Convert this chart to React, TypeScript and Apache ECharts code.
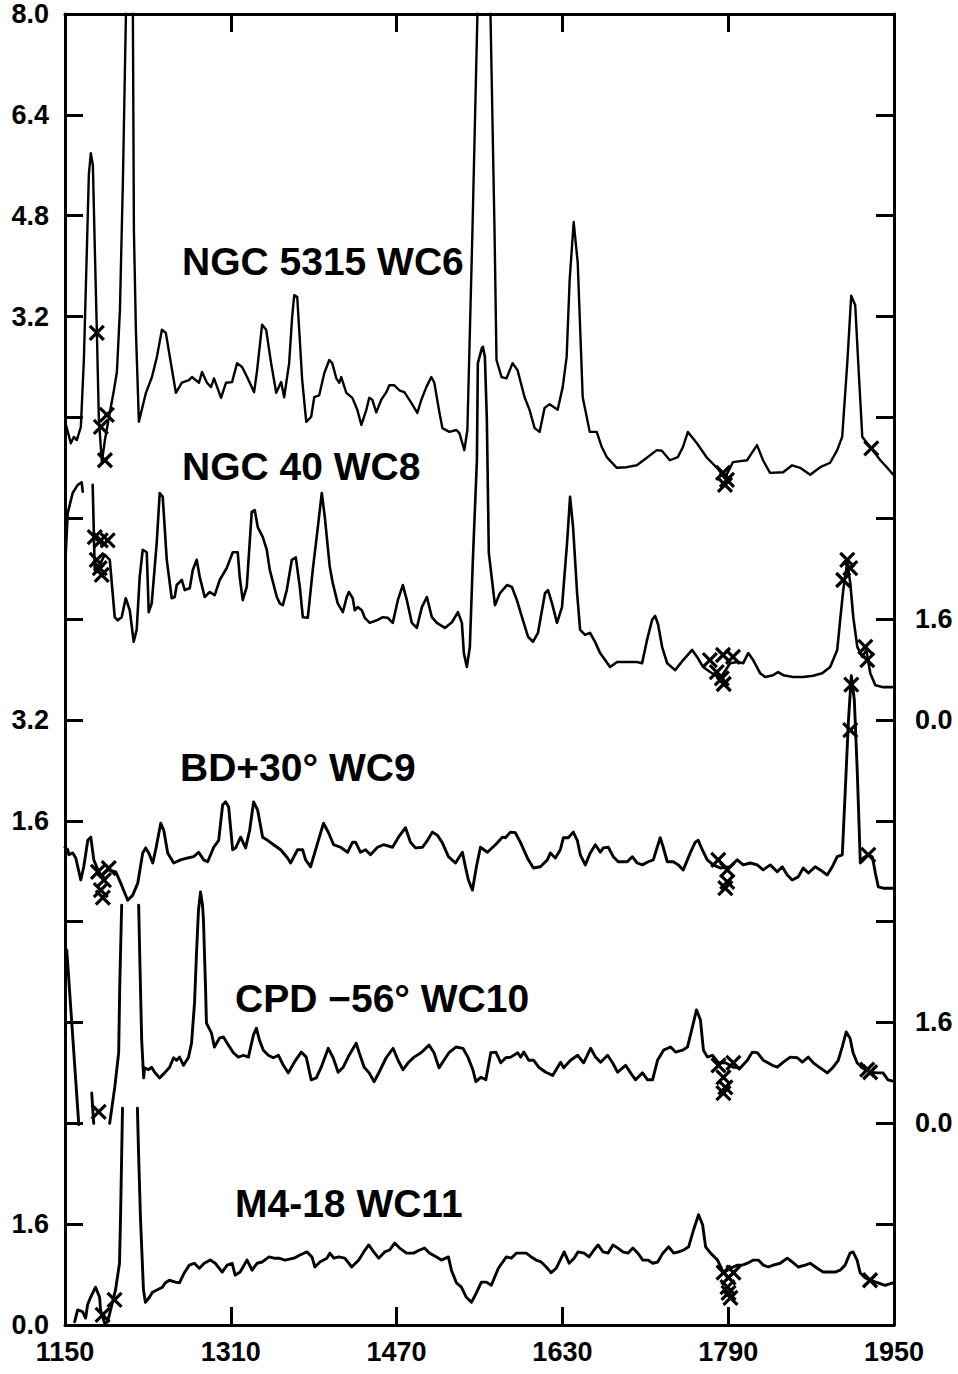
import React, { useEffect, useRef } from "react";
import * as echarts from "echarts";

// ---- data (wavelength in Å, flux in local units of each spectrum) ----
const xTickValues = [1150, 1310, 1470, 1630, 1790, 1950];
const yStep = 1.6;
const leftTickLabels = ["0.0", "1.6", "", "", "", "1.6", "3.2", "", "", "", "3.2", "4.8", "6.4", "8.0"];
const rightTickLabels = ["", "", "0.0", "1.6", "", "", "0.0", "1.6", "", "", "", "", "", ""];
const names = ["NGC 5315 WC6", "NGC 40 WC8", "BD+30° WC9", "CPD −56° WC10", "M4-18 WC11"];
const offsets = [12.8, 9.6, 6.4, 3.2, 0];

const ngc5315 = [
  [1151, 1.48], [1155.6, 1.19], [1158.5, 1.29], [1161.4, 1.24], [1165.3, 1.45], [1168.2, 2.51], [1171.1, 4.26], [1173, 5.45], [1174.9, 5.79], [1176.9, 5.6], [1178.8, 4.26], [1180.7, 2.99], [1182.7, 1.56], [1185.6, 0.89], [1188.5, 1.24], [1192.3, 1.59], [1197.2, 2.03], [1200.1, 2.32], [1203, 3.3], [1205.9, 5.37], [1208.8, 8.0], [1212, 9.5], [1215.5, 8.0], [1216.5, 4.57], [1218.4, 2.99], [1221.3, 1.53], [1228.1, 1.99], [1233.9, 2.24], [1238.7, 2.56], [1243.5, 2.99], [1247.3, 2.94], [1252.2, 2.46], [1257, 1.99], [1262.8, 2.15], [1269.6, 2.19], [1272.5, 2.24], [1279.3, 2.15], [1282.2, 2.32], [1287, 2.15], [1290.9, 2.08], [1293.8, 2.22], [1300.6, 1.91], [1305.4, 2.15], [1311.2, 2.16], [1316.1, 2.46], [1320.9, 2.4], [1325.7, 2.24], [1332.5, 2.0], [1335.4, 2.35], [1340.2, 3.07], [1344.1, 2.99], [1348.9, 2.46], [1353.8, 1.99], [1358.6, 2.16], [1361.5, 1.92], [1366.3, 2.46], [1369.2, 3.19], [1371.2, 3.54], [1374.1, 3.51], [1376, 2.99], [1378.9, 2.19], [1382.8, 1.53], [1387.6, 1.61], [1390.5, 1.92], [1395.3, 1.95], [1400.2, 2.3], [1405, 2.51], [1407.9, 2.46], [1411.8, 2.22], [1414.7, 2.15], [1416.6, 2.24], [1421.5, 1.99], [1427.3, 1.91], [1432.1, 1.72], [1436, 1.48], [1440.8, 1.72], [1443.6, 1.91], [1446.5, 1.88], [1450.4, 1.68], [1455.2, 1.88], [1460.1, 2.0], [1463, 2.11], [1467.8, 2.11], [1472.6, 2.03], [1477.5, 2.0], [1484.2, 1.83], [1490, 1.67], [1493.9, 1.88], [1498.7, 2.08], [1503.5, 2.24], [1506.4, 2.15], [1511.3, 1.68], [1514.2, 1.43], [1520.9, 1.37], [1527.7, 1.4], [1530.6, 1.35], [1535.4, 1.08], [1538.3, 1.4], [1543.2, 4.57], [1548, 8.0], [1554.8, 9.5], [1560.6, 8.0], [1564.5, 4.57], [1566.4, 2.51], [1571.3, 2.24], [1576.1, 2.22], [1581.9, 2.46], [1586.7, 2.35], [1593.5, 1.92], [1598.3, 1.72], [1603.2, 1.43], [1608, 1.37], [1612.8, 1.75], [1617.7, 1.81], [1625.4, 1.72], [1630.3, 2.08], [1634.1, 2.56], [1637, 3.78], [1640.9, 4.7], [1644.8, 4.05], [1649.6, 1.92], [1656.4, 1.37], [1663.1, 1.37], [1668, 1.13], [1672.8, 0.97], [1682.5, 0.8], [1692.1, 0.81], [1701.8, 0.84], [1711.5, 0.96], [1721.1, 1.08], [1726, 1.07], [1733.7, 0.92], [1741.4, 0.97], [1746.3, 1.13], [1751.1, 1.37], [1759.8, 1.19], [1769.5, 0.96], [1779.2, 0.8], [1786.9, 0.64], [1794.6, 0.89], [1808.2, 0.92], [1817.8, 1.16], [1823.6, 0.92], [1830.4, 0.72], [1843, 0.73], [1851.7, 0.84], [1859.4, 0.8], [1869.1, 0.69], [1878.8, 0.81], [1888.4, 0.88], [1895.2, 1.08], [1900, 1.29], [1904.9, 2.46], [1908.7, 3.53], [1912.6, 3.38], [1915.5, 2.46], [1919.4, 1.29], [1927.1, 1.13], [1936.8, 0.92], [1943.5, 0.8], [1949.3, 0.69],
];

const ngc40 = [
  [1150.7, 2.62], [1152.6, 3.28], [1157.4, 3.6], [1162.3, 3.73], [1166.1, 3.77], [1167.1, 3.62], [1172, null],
  [1176.7, 3.73], [1178.7, 2.38], [1183.5, 2.46], [1188.3, 2.62], [1193.2, 2.54], [1198, 1.63], [1200.9, 1.58], [1204.7, 1.63], [1208.6, 1.93], [1212.5, 1.74], [1216.3, 1.24], [1219.2, 1.43], [1222.1, 2.27], [1225, 2.7], [1228.9, 2.66], [1230.8, 1.71], [1233.7, 1.85], [1238.5, 2.81], [1241.4, 3.6], [1244.3, 3.54], [1248.2, 2.54], [1253, 1.93], [1255.9, 1.95], [1257.8, 2.14], [1262.7, 2.22], [1265.6, 2.06], [1270.4, 2.09], [1273.3, 2.38], [1277.1, 2.54], [1280, 2.27], [1284.8, 1.95], [1289.7, 2.03], [1294.5, 1.98], [1299.3, 2.22], [1306.1, 2.41], [1311.9, 2.66], [1316.7, 2.66], [1318.6, 2.27], [1321.5, 1.9], [1325.4, 2.11], [1330.2, 3.3], [1333.1, 3.33], [1336, 3.06], [1340.9, 2.9], [1344.7, 2.7], [1347.6, 2.38], [1354.4, 1.95], [1357.3, 1.85], [1360.2, 1.82], [1364, 2.06], [1368.9, 2.54], [1372.7, 2.58], [1376.6, 2.11], [1379.5, 1.63], [1384.3, 1.62], [1389.1, 2.38], [1394, 3.06], [1397.8, 3.6], [1400.7, 3.22], [1405.5, 2.43], [1408.4, 2.17], [1413.2, 1.85], [1418.1, 1.71], [1421.9, 1.95], [1423.9, 2.03], [1427.7, 1.93], [1429.6, 1.74], [1432.5, 1.79], [1436.4, 1.74], [1439.3, 1.62], [1444.1, 1.54], [1450.9, 1.58], [1456.7, 1.63], [1461.5, 1.62], [1466.3, 1.54], [1471.2, 1.9], [1476, 2.14], [1479.9, 1.9], [1484.7, 1.54], [1489.5, 1.46], [1494.4, 1.79], [1499.2, 1.95], [1504, 1.63], [1508.9, 1.54], [1516.6, 1.46], [1523.4, 1.55], [1529.2, 1.71], [1533, 1.54], [1534.9, 1.06], [1537.8, 0.84], [1540.7, 1.16], [1543.6, 2.54], [1547.5, 4.12], [1548.4, 5.66], [1552.3, 5.9], [1553.3, 5.92], [1555.2, 5.76], [1557.1, 4.76], [1559, 2.65], [1564.9, 1.82], [1569.7, 2.01], [1576.5, 2.14], [1581.3, 2.11], [1586.1, 1.9], [1591, 1.63], [1596.8, 1.32], [1601.6, 1.24], [1606.4, 1.38], [1613.2, 2.01], [1616.1, 2.06], [1620, 1.85], [1624.8, 1.54], [1629.6, 1.79], [1634.5, 2.81], [1637.4, 3.54], [1640.3, 3.06], [1644.2, 2.01], [1647.1, 1.43], [1651.9, 1.35], [1656.7, 1.38], [1661.5, 1.24], [1666.4, 1.06], [1671.2, 0.95], [1676, 0.84], [1682.8, 0.92], [1692.4, 0.92], [1702.1, 0.92], [1706.9, 0.9], [1711.7, 1.27], [1716.6, 1.59], [1719.5, 1.65], [1722.4, 1.51], [1726.2, 1.16], [1731.1, 0.9], [1738.8, 0.79], [1746.5, 0.95], [1755.2, 1.11], [1760, 1.0], [1765.8, 0.84], [1772.6, 0.76], [1782.3, 0.66], [1791.9, 0.9], [1798.7, 0.92], [1804.5, 0.9], [1809.3, 1.06], [1814.1, 0.95], [1820.9, 0.74], [1825.7, 0.68], [1833.4, 0.71], [1838.2, 0.76], [1843.1, 0.71], [1852.7, 0.68], [1862.4, 0.68], [1872, 0.7], [1880.7, 0.74], [1888.4, 0.84], [1895.2, 1.11], [1898.1, 1.59], [1901, 2.06], [1904.9, 2.5], [1907.8, 2.17], [1910.7, 1.63], [1914.6, 1.16], [1919.4, 1.0], [1923.3, 1.11], [1927.1, 0.74], [1932, 0.55], [1939.7, 0.52], [1948.4, 0.52],
];

const bd30 = [
  [1150, 1.18], [1152.7, 1.14], [1153.7, 1.06], [1157.5, 1.09], [1160.4, 1.01], [1165.2, 0.66], [1168.1, 0.87], [1172, 1.29], [1174.9, 1.34], [1177.8, 0.98], [1184.5, 0.71], [1191.3, 0.82], [1199, 0.79], [1203.8, 0.61], [1210.5, 0.34], [1215.4, 0.42], [1220.2, 0.61], [1225, 1.09], [1227.9, 1.17], [1230.8, 1.09], [1234.7, 0.93], [1237.5, 1.14], [1242.4, 1.56], [1245.3, 1.45], [1249.1, 1.09], [1254.9, 0.93], [1261.6, 0.98], [1268.4, 1.01], [1274.2, 1.03], [1279, 1.1], [1283.8, 0.98], [1287.7, 0.95], [1293.5, 1.18], [1298.3, 1.29], [1302.1, 1.85], [1305, 1.9], [1307.9, 1.82], [1311.8, 1.14], [1314.7, 1.17], [1319.5, 1.34], [1324.3, 1.17], [1328.2, 1.45], [1332, 1.9], [1335.9, 1.77], [1340.7, 1.34], [1345.5, 1.29], [1351.3, 1.22], [1358.1, 1.14], [1364.8, 1.01], [1367.7, 0.93], [1374.4, 1.14], [1379.3, 1.14], [1382.2, 0.98], [1387, 0.87], [1393.8, 1.25], [1399.5, 1.56], [1404.3, 1.41], [1409.2, 1.22], [1415.9, 1.18], [1422.7, 1.1], [1427.5, 1.26], [1430.4, 1.26], [1435.2, 1.1], [1440, 1.14], [1444.8, 1.06], [1451.6, 1.18], [1457.4, 1.22], [1466.1, 1.18], [1471.8, 1.34], [1478.6, 1.49], [1483.4, 1.26], [1488.2, 1.17], [1495, 1.18], [1499.8, 1.29], [1504.6, 1.42], [1509.4, 1.37], [1514.2, 1.25], [1520, 1.03], [1526.8, 0.93], [1533.5, 1.1], [1536.4, 0.87], [1539.3, 0.66], [1543.2, 0.5], [1547, 0.87], [1550.9, 1.18], [1557.6, 1.1], [1565.4, 1.22], [1572.1, 1.34], [1575, 1.33], [1579.8, 1.42], [1584.6, 1.41], [1589.4, 1.26], [1596.2, 1.01], [1602, 0.85], [1608.7, 0.87], [1615.5, 0.98], [1618.4, 1.09], [1623.2, 1.01], [1628, 1.14], [1630.9, 1.33], [1635.7, 1.33], [1640.5, 1.42], [1644.4, 1.29], [1647.3, 1.06], [1652.1, 0.9], [1656.9, 1.09], [1661.8, 1.22], [1666.6, 1.1], [1669.5, 1.17], [1674.3, 1.18], [1679.1, 1.03], [1683.9, 0.95], [1692.6, 0.95], [1697.4, 1.03], [1702.2, 0.93], [1707.1, 0.9], [1712.8, 0.95], [1717.7, 0.98], [1721.5, 1.18], [1724.4, 1.33], [1727.3, 1.18], [1731.2, 0.95], [1737, 0.95], [1741.8, 0.9], [1746.6, 0.82], [1753.4, 1.09], [1758.2, 1.26], [1761.1, 1.29], [1765, 1.14], [1769.8, 0.98], [1775.6, 0.9], [1782.3, 0.85], [1792, 0.87], [1798.7, 0.98], [1804.5, 0.9], [1811.3, 0.93], [1818, 0.9], [1823.8, 0.82], [1830.6, 0.9], [1837.3, 0.79], [1842.2, 0.87], [1847, 0.74], [1851.8, 0.66], [1857.6, 0.71], [1862.4, 0.85], [1867.3, 0.77], [1874, 0.87], [1878.8, 0.82], [1885.6, 0.74], [1890.4, 0.87], [1895.2, 1.03], [1900.1, 1.06], [1903, 2.09], [1905.9, 3.15], [1908.8, 3.9], [1911.7, 3.52], [1914.6, 2.36], [1917.5, 0.93], [1920.4, 1.01], [1925.2, 1.06], [1929.1, 1.03], [1932, 0.77], [1934.9, 0.55], [1939.7, 0.53], [1949.3, 0.53],
];

const cpd56 = [
  [1151.7, 2.75], [1163.3, -0.02], [1170, null], [1175.8, 0.48], [1177.7, 0.0], [1185, null],
  [1193.1, 0.0], [1198, 0.57], [1201.8, 1.12], [1202.8, 2.16], [1204.7, 3.46], [1212, null],
  [1221.1, 3.46], [1222, 2.75], [1224, 1.32], [1225.9, 0.72], [1226.8, 0.88], [1230.7, 0.85], [1233.6, 0.89], [1236.5, 0.81], [1241.3, 0.72], [1246.1, 0.8], [1250.9, 0.89], [1254.8, 1.04], [1257.7, 1.0], [1260.5, 1.05], [1264.4, 0.92], [1269.2, 1.05], [1272.1, 1.27], [1275, 1.91], [1276.9, 2.7], [1278.8, 3.38], [1280.8, 3.67], [1282.7, 3.46], [1283.6, 3.23], [1285.6, 2.16], [1286.5, 1.59], [1291.4, 1.43], [1294.2, 1.21], [1299, 1.35], [1302.9, 1.37], [1307.7, 1.24], [1312.5, 1.12], [1317.3, 1.05], [1322.2, 1.08], [1327, 1.05], [1331.8, 1.4], [1334.7, 1.51], [1337.6, 1.32], [1341.4, 1.16], [1346.2, 1.08], [1351.1, 1.04], [1355.9, 1.08], [1360.7, 0.92], [1365.5, 0.8], [1371.3, 0.97], [1378, 1.13], [1382.8, 1.05], [1387.6, 0.69], [1392.5, 0.72], [1397.3, 0.89], [1404, 1.19], [1408.8, 1.04], [1413.6, 0.81], [1418.5, 0.89], [1424.2, 1.08], [1431, 1.27], [1433.9, 1.12], [1438.7, 0.89], [1443.5, 0.8], [1448.3, 0.66], [1453.1, 0.81], [1459.9, 1.04], [1466.6, 1.19], [1471.4, 1.0], [1476.2, 0.85], [1481.1, 0.96], [1486.8, 1.05], [1493.6, 1.12], [1501.3, 1.24], [1506.1, 1.12], [1510.9, 0.88], [1515.7, 1.0], [1520.5, 1.12], [1527.3, 1.21], [1534, 1.19], [1538.8, 1.05], [1543.6, 0.85], [1546.5, 0.66], [1551.3, 0.73], [1556.1, 0.69], [1560.9, 1.12], [1565.8, 1.13], [1570.6, 0.96], [1575.4, 1.04], [1580.2, 1.05], [1586.9, 1.12], [1589.8, 1.05], [1592.7, 1.13], [1597.5, 1.0], [1602.3, 1.0], [1607.1, 0.89], [1613.9, 0.81], [1620.6, 0.76], [1625.4, 0.89], [1628.3, 0.97], [1631.2, 0.88], [1637.9, 1.0], [1644.7, 1.08], [1650.5, 0.96], [1657.2, 1.19], [1662, 1.05], [1666.9, 0.97], [1673.6, 1.08], [1678.4, 0.96], [1683.3, 0.81], [1688.1, 0.88], [1691, 0.92], [1695.8, 0.8], [1700.6, 0.69], [1707.3, 0.8], [1712.2, 0.69], [1717, 0.69], [1721.8, 1.0], [1727.6, 1.16], [1734.4, 1.21], [1739.2, 1.13], [1745.9, 1.16], [1750.7, 1.21], [1755.5, 1.53], [1759.4, 1.8], [1763.2, 1.64], [1766.1, 1.16], [1770, 1.05], [1774.8, 1.08], [1780.6, 0.96], [1787.3, 0.96], [1795, 0.89], [1801.8, 0.88], [1808.5, 1.0], [1813.3, 1.13], [1818.1, 1.12], [1823.9, 1.0], [1832.6, 0.92], [1837.4, 0.89], [1843.2, 0.97], [1849.9, 1.05], [1856.7, 1.04], [1861.5, 0.97], [1867.3, 1.05], [1872.1, 0.96], [1878.8, 0.88], [1885.6, 0.8], [1891.3, 0.89], [1896.2, 1.0], [1900, 1.21], [1903.9, 1.45], [1907.6, 1.35], [1910.5, 1.12], [1914.4, 0.96], [1919.2, 0.88], [1926.9, 0.81], [1933.6, 0.8], [1939.4, 0.8], [1944.2, 0.69], [1949, 0.67],
];

const m418 = [
  [1159.3, 0.05], [1162.2, 0.24], [1167, 0.21], [1169.9, 0.11], [1171.8, 0.32], [1174.7, 0.44], [1179.5, 0.6], [1183.4, 0.44], [1184.3, 0.24], [1188.2, 0.03], [1191.1, 0.05], [1194, 0.24], [1198.8, 0.56], [1202.6, 0.98], [1203.6, 1.71], [1205.5, 3.44], [1212, null],
  [1219.9, 3.44], [1220.9, 2.78], [1222.8, 1.71], [1225.7, 0.56], [1227.6, 0.36], [1231.5, 0.44], [1234.4, 0.52], [1239.2, 0.56], [1244, 0.6], [1246.9, 0.67], [1250.7, 0.71], [1256.5, 0.68], [1260.4, 0.67], [1265.2, 0.83], [1270, 0.95], [1274.8, 0.98], [1279.6, 0.9], [1284.4, 0.98], [1290.2, 1.03], [1295, 0.98], [1301.7, 0.84], [1306.5, 0.95], [1311.3, 0.98], [1314.2, 0.79], [1319, 0.84], [1325.7, 1.03], [1330.5, 0.87], [1335.4, 0.98], [1340.2, 1.0], [1346.9, 1.08], [1351.7, 1.06], [1356.5, 1.06], [1362.3, 1.03], [1370.9, 1.06], [1376.7, 1.11], [1383.5, 1.16], [1388.3, 1.08], [1391.2, 0.92], [1396, 1.0], [1402.7, 1.06], [1405.6, 1.14], [1409.4, 1.06], [1414.2, 1.08], [1420, 1.06], [1426.7, 0.92], [1433.5, 1.03], [1438.3, 1.16], [1443.1, 1.27], [1447.9, 1.16], [1452.7, 1.06], [1458.5, 1.16], [1463.3, 1.19], [1468.1, 1.3], [1472.9, 1.22], [1479.6, 1.14], [1486.4, 1.14], [1492.2, 1.19], [1497, 1.22], [1501.8, 1.14], [1508.5, 1.08], [1513.3, 1.03], [1520, 1.08], [1522.9, 0.87], [1527.7, 0.67], [1532.5, 0.6], [1537.3, 0.44], [1542.2, 0.36], [1547, 0.51], [1551.8, 0.68], [1556.6, 0.68], [1561.4, 0.63], [1568.2, 0.9], [1575.9, 1.08], [1580.7, 1.06], [1585.5, 1.14], [1590.3, 1.14], [1595.1, 1.14], [1599.9, 1.08], [1604.7, 1.03], [1609.5, 1.0], [1614.4, 0.92], [1619.2, 0.83], [1624, 0.9], [1628.8, 1.06], [1631.7, 1.16], [1636.5, 0.98], [1641.3, 1.06], [1645.1, 1.16], [1650.9, 1.14], [1655.7, 1.08], [1660.5, 1.19], [1664.4, 1.27], [1669.2, 1.16], [1674, 1.14], [1678.8, 1.27], [1683.6, 1.22], [1688.4, 1.16], [1693.2, 1.14], [1698, 1.22], [1702.8, 1.14], [1707.6, 1.03], [1712.4, 1.03], [1717.2, 0.98], [1722, 1.0], [1726.9, 1.14], [1732.6, 1.24], [1737.4, 1.14], [1742.2, 1.16], [1747, 1.19], [1751.8, 1.24], [1756.6, 1.51], [1761.4, 1.75], [1765.3, 1.59], [1768.2, 1.24], [1773, 1.14], [1779.7, 1.03], [1785.5, 0.83], [1792.2, 0.9], [1798.9, 0.95], [1803.7, 0.95], [1808.6, 0.98], [1814.3, 1.03], [1819.1, 1.03], [1823.9, 0.95], [1828.7, 0.92], [1833.5, 0.95], [1840.2, 0.98], [1847, 1.06], [1851.8, 1.0], [1857.6, 0.92], [1864.3, 0.95], [1869.1, 0.98], [1875.9, 0.9], [1881.6, 0.84], [1888.4, 0.84], [1893.2, 0.84], [1898, 0.87], [1902.8, 0.95], [1907.6, 1.14], [1910.5, 1.16], [1914.4, 1.03], [1917.3, 0.83], [1922.1, 0.75], [1926.9, 0.71], [1934.6, 0.67], [1941.3, 0.63], [1949, 0.67],
];

// flagged points (crosses)
const x5315 = [[1180.7, 2.94], [1184.6, 1.45], [1190.4, 1.64], [1188.5, 0.92], [1785, 0.72], [1788.8, 0.61], [1786.9, 0.53], [1928.1, 1.11]];
const x40 = [[1178.7, 2.9], [1184.5, 2.85], [1191.2, 2.85], [1180.6, 2.54], [1183.5, 2.41], [1185.4, 2.3], [1772.3, 0.95], [1785, 1.03], [1794.6, 1.0], [1779, 0.76], [1783.8, 0.66], [1785.7, 0.57], [1904.9, 2.54], [1907.8, 2.41], [1901, 2.22], [1922.3, 1.16], [1924.2, 0.95]];
const xBD = [[1181.8, 0.79], [1187.6, 0.66], [1184.5, 0.5], [1186.5, 0.38], [1192.2, 0.85], [1780.4, 0.98], [1789.1, 0.82], [1789.1, 0.63], [1787.2, 0.53], [1908.8, 3.76], [1907.8, 3.04], [1925.2, 1.06]];
const xCPD = [[1182.5, 0.18], [1780.6, 0.92], [1785.4, 0.73], [1787.3, 0.57], [1785.4, 0.48], [1795, 0.96], [1924.1, 0.85], [1927, 0.81]];
const xM4 = [[1186.3, 0.16], [1197.8, 0.4], [1785.5, 0.83], [1790.3, 0.75], [1789.3, 0.6], [1790.3, 0.51], [1792.2, 0.43], [1795.1, 0.83], [1926.9, 0.71]];

const spectra = [ngc5315, ngc40, bd30, cpd56, m418];
const crosses = [x5315, x40, xBD, xCPD, xM4];
const lineWidths = [2.4, 2.6, 2.9, 2.9, 2.9];

const FONT = '"Liberation Sans", Arial, Helvetica, sans-serif';

export default function App() {
  const ref = useRef<HTMLDivElement>(null);

  useEffect(() => {
    if (!ref.current) return;
    const chart = echarts.init(ref.current, undefined, { renderer: "svg" });

    const axisLine = { show: true, onZero: false, lineStyle: { color: "#000", width: 3 } };
    const axisTick = { show: true, inside: true, length: 18, lineStyle: { color: "#000", width: 3 } };
    const labelStyle = { color: "#000", fontSize: 27, fontWeight: "bold" as const, fontFamily: FONT };
    const idx = (v: number) => Math.round(v / yStep);

    const lineSeries = spectra.map((s, i) => ({
      type: "line",
      name: names[i],
      data: s.map(([x, y]) => [x, y === null ? null : (y as number) + offsets[i]]),
      showSymbol: false,
      symbol: "none",
      connectNulls: false,
      clip: true,
      silent: true,
      lineStyle: { color: "#000", width: lineWidths[i], join: "round", cap: "round" },
      z: 2,
    }));

    const crossSeries = crosses.map((c, i) => ({
      type: "scatter",
      data: c.map(([x, y]) => [x, y + offsets[i]]),
      symbol: "path://M0,0L10,10M10,0L0,10",
      symbolSize: 14,
      silent: true,
      itemStyle: { color: "rgba(0,0,0,0)", borderColor: "#000", borderWidth: 3.2, opacity: 1 },
      z: 3,
    }));

    const titlePos = [
      [182, 261],
      [182, 466],
      [180, 767],
      [235, 998],
      [235, 1203],
    ];

    chart.setOption({
      animation: false,
      backgroundColor: "#fff",
      grid: { left: 65, right: 64, top: 14, bottom: 49, containLabel: false },
      xAxis: [
        {
          type: "value",
          position: "bottom",
          min: xTickValues[0],
          max: xTickValues[xTickValues.length - 1],
          interval: 160,
          axisLine,
          axisTick,
          splitLine: { show: false },
          axisLabel: { ...labelStyle, margin: 13, showMinLabel: true, showMaxLabel: true, formatter: (v: number) => String(Math.round(v)) },
        },
        {
          type: "value",
          position: "top",
          min: xTickValues[0],
          max: xTickValues[xTickValues.length - 1],
          interval: 160,
          axisLine,
          axisTick,
          splitLine: { show: false },
          axisLabel: { show: false },
        },
      ],
      yAxis: [
        {
          type: "value",
          position: "left",
          min: 0,
          max: 20.8,
          interval: yStep,
          axisLine,
          axisTick,
          splitLine: { show: false },
          axisLabel: { ...labelStyle, margin: 16, showMinLabel: true, showMaxLabel: true, formatter: (v: number) => leftTickLabels[idx(v)] ?? "" },
        },
        {
          type: "value",
          position: "right",
          min: 0,
          max: 20.8,
          interval: yStep,
          axisLine,
          axisTick,
          splitLine: { show: false },
          axisLabel: { ...labelStyle, margin: 21, showMinLabel: true, showMaxLabel: true, formatter: (v: number) => rightTickLabels[idx(v)] ?? "" },
        },
      ],
      graphic: names.map((n, i) => ({
        type: "text",
        x: titlePos[i][0],
        y: titlePos[i][1],
        z: 10,
        style: {
          text: n,
          font: `bold 39px ${FONT}`,
          fill: "#000",
          align: "left",
          verticalAlign: "middle",
        },
      })),
      series: [...lineSeries, ...crossSeries],
    });

    return () => chart.dispose();
  }, []);

  return <div ref={ref} style={{ position: "absolute", left: 0, top: 0, width: 958, height: 1374 }} />;
}
